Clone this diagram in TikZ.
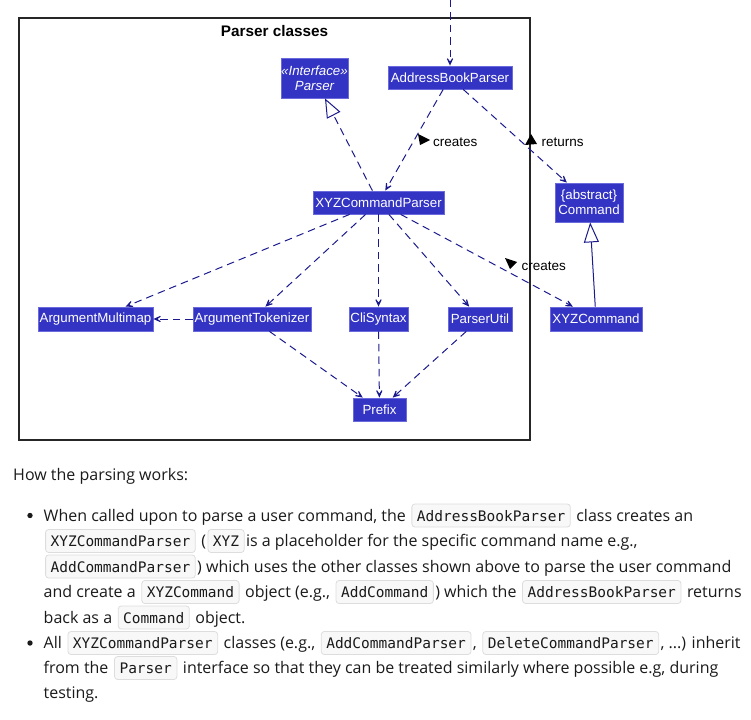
\documentclass[tikz,border=0pt]{standalone}
\usepackage{fontspec}
\setmainfont{Open Sans}
\newfontfamily\diafont{Liberation Sans}
\newfontfamily\monofont{DejaVu Sans Mono}
\usetikzlibrary{arrows.meta}
\definecolor{logic}{HTML}{3333C4}
\definecolor{logicborder}{HTML}{6A6ADC}
\definecolor{arrowc}{HTML}{1A1A8E}
\definecolor{textc}{HTML}{1A1A1A}
\definecolor{codefill}{HTML}{F8F8F8}
\definecolor{codeborder}{HTML}{DDDDDD}
\newcommand\cbox[1]{\hspace{1.5pt}\tikz[baseline=(cb.base)]\node[draw=codeborder,fill=codefill,rounded corners=3pt,inner xsep=5pt,inner ysep=3pt,text height=14pt,text depth=3pt,line width=0.8pt,text=textc,font=\monofont\fontsize{14.5}{16}\selectfont] (cb) {#1};\hspace{1.5pt}}
\tikzset{
  cls/.style={draw=logicborder,fill=logic,text=white,line width=0.8pt,inner sep=0pt,align=center,font=\diafont\fontsize{13.3}{15}\selectfont},
  dep/.style={draw=arrowc,line width=1pt,dash pattern=on 7.5pt off 5pt,-{Stealth[length=12pt,width=11pt,inset=8pt]}},
  real/.style={draw=arrowc,line width=1pt,dash pattern=on 7.5pt off 5pt,-{Triangle[open,length=19pt,width=15pt]}},
  gen/.style={draw=arrowc,line width=1pt,-{Triangle[open,length=20pt,width=15pt]}},
  elabel/.style={text=black,inner sep=0pt,font=\diafont\fontsize{13.5}{15}\selectfont},
  para/.style={anchor=base west,inner sep=0pt,text=textc,font=\fontsize{16}{20}\selectfont}
}
\begin{document}
\begin{tikzpicture}[x=1pt,y=-1pt]
\useasboundingbox (0,0) rectangle (751,719);
% package frame
\node[draw=black!85,line width=1.5pt,minimum width=511pt,minimum height=422pt,inner sep=0pt] (frame) at (274.5,229) {};
\node[inner sep=0pt,font=\diafont\bfseries\fontsize{15.3}{17}\selectfont] (title) at (274.5,31) {Parser classes};
% classes
\node[cls,minimum width=67pt,minimum height=40pt,font=\diafont\itshape\fontsize{13.3}{15}\selectfont] (parser) at (314.5,78) {«Interface»\\Parser};
\node[cls,minimum width=124pt,minimum height=23pt] (abp) at (450,77.5) {AddressBookParser};
\node[cls,minimum width=131pt,minimum height=23pt] (xcp) at (378.5,202.5) {XYZCommandParser};
\node[cls,minimum width=68pt,minimum height=39pt] (cmd) at (589,202.5) {\{abstract\}\\Command};
\node[cls,minimum width=115pt,minimum height=24pt] (amm) at (95.5,319) {ArgumentMultimap};
\node[cls,minimum width=118pt,minimum height=24pt] (at) at (252,319) {ArgumentTokenizer};
\node[cls,minimum width=59pt,minimum height=24pt] (cs) at (378.5,319) {CliSyntax};
\node[cls,minimum width=64pt,minimum height=24pt] (pu) at (480,319) {ParserUtil};
\node[cls,minimum width=92pt,minimum height=24pt] (xc) at (596,319) {XYZCommand};
\node[cls,minimum width=53pt,minimum height=23pt] (prefix) at (379.5,409.5) {Prefix};
% connectors
\coordinate (topin) at (450,0);
\draw[dep] (topin) -- (abp);
\draw[dep] (abp) -- (xcp);
\draw[dep] (abp) -- (cmd);
\draw[real] (xcp) -- (parser);
\draw[dep] (xcp) -- (amm);
\draw[dep] (xcp) -- (at);
\draw[dep] (xcp) -- (cs);
\draw[dep] (xcp) -- (pu);
\draw[dep] (xcp) -- (xc);
\draw[dep] (at) -- (amm);
\draw[dep] (at) -- (prefix);
\draw[dep] (cs) -- (prefix);
\draw[dep] (pu) -- (prefix);
\draw[gen] (xc) -- (cmd);
% edge labels
\node[elabel,anchor=west] (lcreates1) at (433,142) {creates};
\fill (418,134) -- (430,140) -- (420,145) -- cycle;
\node[elabel,anchor=west] (lreturns) at (541.5,142) {returns};
\fill (531,134) -- (537,144) -- (525,145) -- cycle;
\node[elabel,anchor=west] (lcreates2) at (521.5,266) {creates};
\fill (505,258) -- (517,262) -- (510,269) -- cycle;
% text
\node[para] (intro) at (13,480) {How the parsing works:};
\fill[textc] (30,515.5) circle (2.7pt);
\node[para] (b1l1) at (43.5,521) {When called upon to parse a user command, the \cbox{AddressBookParser} class creates an};
\node[para] (b1l2) at (43.5,546.5) {\cbox{XYZCommandParser} (\cbox{XYZ}is a placeholder for the specific command name e.g.,};
\node[para] (b1l3) at (43.5,572) {\cbox{AddCommandParser}) which uses the other classes shown above to parse the user command};
\node[para] (b1l4) at (43.5,597.5) {and create a \cbox{XYZCommand} object (e.g., \cbox{AddCommand}) which the \cbox{AddressBookParser} returns};
\node[para] (b1l5) at (43.5,623) {back as a \cbox{Command} object.};
\fill[textc] (30,643) circle (2.7pt);
\node[para] (b2l1) at (43.5,648.5) {All \cbox{XYZCommandParser} classes (e.g., \cbox{AddCommandParser}, \cbox{DeleteCommandParser}, ...) inherit};
\node[para] (b2l2) at (43.5,673.5) {from the \cbox{Parser} interface so that they can be treated similarly where possible e.g, during};
\node[para] (b2l3) at (43.5,698.5) {testing.};
\end{tikzpicture}
\end{document}
